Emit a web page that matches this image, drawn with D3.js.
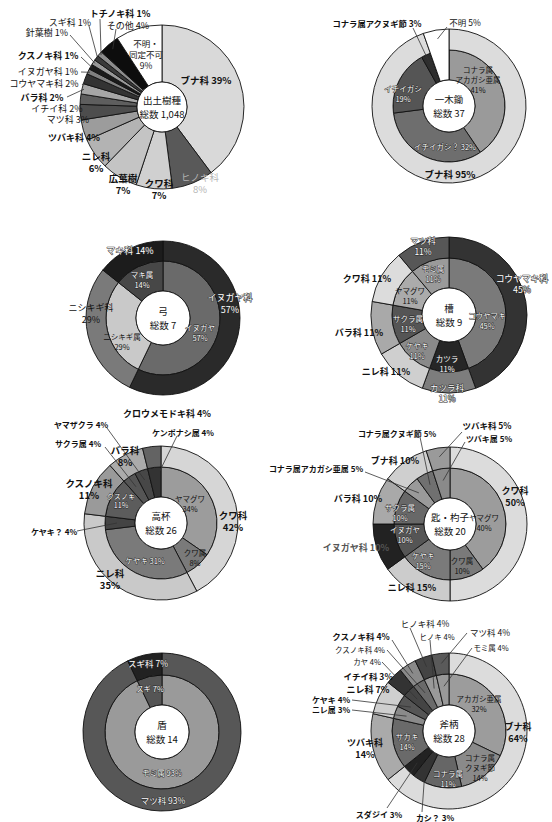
<!DOCTYPE html>
<html>
<head>
<meta charset="utf-8">
<script src="https://cdn.jsdelivr.net/npm/d3@7"></script>
<style>
  body { margin: 0; background: #fff; }
  text { font-family: "Noto Sans CJK JP", "Noto Sans", sans-serif; }
</style>
</head>
<body>
<svg width="552" height="822"></svg>
<script>
// ---- data (clockwise from 12 o'clock) ----
// 出土樹種 : single ring, percentages
const p1Names = ['ブナ科','ヒノキ科','クワ科','広葉樹','ニレ科','ツバキ科','マツ科','イチイ科','バラ科','コウヤマキ科','イヌガヤ科','クスノキ科','針葉樹','スギ科','トチノキ科','その他','不明・同定不可'];
const p1Values = [39, 8, 7, 7, 6, 4, 3, 2, 2, 2, 1, 1, 1, 1, 1, 4, 9];

// 一木鋤 総数 37 (counts)
const p2OuterNames = ['ブナ科','不明'];
const p2OuterValues = [35, 2];
const p2InnerNames = ['コナラ属アカガシ亜属','イチイガシ？','イチイガシ','コナラ属クヌギ節','不明'];
const p2InnerValues = [15, 12, 7, 1, 2];

// 弓 総数 7
const p3OuterNames = ['イヌガヤ科','ニシキギ科','マキ科'];
const p3OuterValues = [4, 2, 1];
const p3InnerNames = ['イヌガヤ','ニシキギ属','マキ属'];
const p3InnerValues = [4, 2, 1];

// 槽 総数 9
const p4OuterNames = ['コウヤマキ科','カツラ科','ニレ科','バラ科','クワ科','マツ科'];
const p4OuterValues = [4, 1, 1, 1, 1, 1];
const p4InnerNames = ['コウヤマキ','カツラ','ケヤキ','サクラ属','ヤマグワ','モミ属'];
const p4InnerValues = [4, 1, 1, 1, 1, 1];

// 高杯 総数 26
const p5OuterNames = ['クワ科','ニレ科','クスノキ科','バラ科','クロウメモドキ科'];
const p5OuterValues = [11, 9, 3, 2, 1];
const p5InnerNames = ['ヤマグワ','クワ属','ケヤキ','ケヤキ？','クスノキ','サクラ属','ヤマザクラ','ケンポナシ属'];
const p5InnerValues = [9, 2, 8, 1, 3, 1, 1, 1];

// 匙・杓子 総数 20
const p6OuterNames = ['クワ科','ニレ科','イヌガヤ科','バラ科','ブナ科','ツバキ科'];
const p6OuterValues = [10, 3, 2, 2, 2, 1];
const p6InnerNames = ['ヤマグワ','クワ属','ケヤキ','イヌガヤ','サクラ属','コナラ属アカガシ亜属','コナラ属クヌギ節','ツバキ属'];
const p6InnerValues = [8, 2, 3, 2, 2, 1, 1, 1];

// 盾 総数 14
const p7OuterNames = ['マツ科','スギ科'];
const p7OuterValues = [13, 1];
const p7InnerNames = ['モミ属','スギ'];
const p7InnerValues = [13, 1];

// 斧柄 総数 28
const p8OuterNames = ['ブナ科','ツバキ科','ニレ科','イチイ科','クスノキ科','ヒノキ科','マツ科'];
const p8OuterValues = [18, 4, 2, 1, 1, 1, 1];
const p8InnerNames = ['アカガシ亜属','コナラ属クヌギ節','コナラ属','カシ？','スダジイ','サカキ','ニレ属','ケヤキ','カヤ','クスノキ科','ヒノキ','モミ属'];
const p8InnerValues = [9, 4, 3, 1, 1, 4, 1, 1, 1, 1, 1, 1];

// ---- styles ----
const p1Fills = ['#d9d9d9','#595959','#d0d0d0','#c4c4c4','#b3b3b3','#9c9c9c','#4d4d4d','#5e5e5e','#a6a6a6','#333','#808080','#1a1a1a','#999','#3a3a3a','#8c8c8c','#0d0d0d','#fff'];
const p2OuterFills = ['#dcdcdc','#fff'];
const p2InnerFills = ['#9a9a9a','#6e6e6e','#555','#2e2e2e','#fff'];
const p3OuterFills = ['#2a2a2a','#7a7a7a','#1c1c1c'];
const p3InnerFills = ['#6a6a6a','#c9c9c9','#474747'];
const p4OuterFills = ['#333','#7d7d7d','#cfcfcf','#a9a9a9','#dcdcdc','#575757'];
const p4InnerFills = ['#7a7a7a','#262626','#8a8a8a','#555','#ababab','#9a9a9a'];
const p5OuterFills = ['#d6d6d6','#c9c9c9','#9a9a9a','#ababab','#636363'];
const p5InnerFills = ['#9c9c9c','#7a7a7a','#7a7a7a','#444','#5c5c5c','#555','#474747','#333'];
const p6OuterFills = ['#dcdcdc','#cccccc','#222','#a9a9a9','#cfcfcf','#9a9a9a'];
const p6InnerFills = ['#9c9c9c','#7a7a7a','#7a7a7a','#555','#686868','#9a9a9a','#707070','#8a8a8a'];
const p7OuterFills = ['#575757','#222'];
const p7InnerFills = ['#9a9a9a','#555'];
const p8OuterFills = ['#dcdcdc','#aaaaaa','#cfcfcf','#333','#8a8a8a','#444','#5a5a5a'];
const p8InnerFills = ['#9c9c9c','#8a8a8a','#666','#333','#222','#6a6a6a','#8a8a8a','#555','#444','#6a6a6a','#999','#999'];

// ---- label layout (relative to panel centre); r/k = ring & slice a leader points to ----
const p1Labels = [
  {t:['ブナ科 39%'], x:44, y:-27, b:1, fs:9.5},
  {t:['ヒノキ科','8%'], x:38, y:70, c:'#b5b5b5', fs:9.5},
  {t:['クワ科','7%'], x:-3, y:76, b:1, fs:9.5},
  {t:['広葉樹','7%'], x:-39, y:71, b:1, fs:9.5},
  {t:['ニレ科','6%'], x:-66, y:49, b:1, fs:9.5},
  {t:['ツバキ科 4%'], x:-88, y:30, b:1, fs:9},
  {t:['マツ科 3%'], x:-94, y:12, fs:9},
  {t:['イチイ科 2%'], x:-105, y:1, fs:9},
  {t:['バラ科 2%'], x:-120, y:-10, b:1, fs:9, r:0, k:8, sx:-95, sy:-10, er:80},
  {t:['コウヤマキ科 2%'], x:-118, y:-24, fs:9, r:0, k:9, sx:-80, sy:-22, er:80},
  {t:['イヌガヤ科 1%'], x:-114, y:-36, fs:9, r:0, k:10, sx:-81, sy:-35, er:80},
  {t:['クスノキ科 1%'], x:-114, y:-52, b:1, fs:9, r:0, k:11, sx:-81, sy:-50, er:80},
  {t:['針葉樹 1%'], x:-115, y:-75, fs:9, r:0, k:12, sx:-92, sy:-72, er:80},
  {t:['スギ科 1%'], x:-92, y:-85, fs:9, r:0, k:13, sx:-73, sy:-81, er:80},
  {t:['トチノキ科 1%'], x:-42, y:-94, b:1, fs:9, r:0, k:14, sx:-62, sy:-88, er:80},
  {t:['その他 4%'], x:-34, y:-82, fs:9, r:0, k:15, sx:-46, sy:-78, er:76},
  {t:['不明・','同定不可','9%'], x:-16, y:-64, fs:8.5}
];
const p2Labels = [
  {t:['コナラ属アクヌギ節 3%'], x:-72, y:-83, b:1, fs:8.3, r:0, k:3, sx:-36, sy:-78, er:46},
  {t:['不明 5%'], x:16, y:-84, fs:8.5, r:1, k:1, sx:-2, sy:-79, er:68},
  {t:['コナラ属','アカガシ亜属','41%'], x:29, y:-37, fs:7.5},
  {t:['イチイガシ','19%'], x:-46, y:-18, w:1, fs:7.5},
  {t:['イチイガシ？ 32%'], x:-4, y:40, w:1, fs:7.5},
  {t:['ブナ科 95%'], x:1, y:68, b:1, fs:9.5}
];
const p3Labels = [
  {t:['マキ科 14%'], x:-33, y:-68, w:1, fs:9},
  {t:['マキ属','14%'], x:-21, y:-44, w:1, fs:7.5},
  {t:['ニシキギ科','29%'], x:-72, y:-11, fs:9},
  {t:['ニシキギ属','29%'], x:-41, y:18, fs:7.5},
  {t:['イヌガヤ科','57%'], x:67, y:-21, w:1, fs:9},
  {t:['イヌガヤ','57%'], x:37, y:9, w:1, fs:7.5}
];
const p4Labels = [
  {t:['マツ科','11%'], x:-26, y:-75, w:1, fs:8.5},
  {t:['モミ属','11%'], x:-16, y:-47, w:1, fs:7.5},
  {t:['クワ科 11%'], x:-82, y:-37, b:1, fs:9},
  {t:['ヤマグワ','11%'], x:-39, y:-25, fs:7.5},
  {t:['コウヤマキ科','45%'], x:73, y:-37, w:1, fs:8.8},
  {t:['コウヤマキ','45%'], x:38, y:0, w:1, fs:7.5},
  {t:['サクラ属','11%'], x:-41, y:3, w:1, fs:7.5},
  {t:['バラ科 11%'], x:-90, y:17, b:1, fs:9},
  {t:['ケヤキ','11%'], x:-32, y:30, w:1, fs:7.5},
  {t:['カツラ','11%'], x:-2, y:43, w:1, fs:7.5},
  {t:['ニレ科 11%'], x:-63, y:56, b:1, fs:9},
  {t:['カツラ科','11%'], x:-2, y:72, w:1, fs:8.5}
];
const p5Labels = [
  {t:['クロウメモドキ科 4%'], x:6, y:-110, b:1, fs:9},
  {t:['ヤマザクラ 4%'], x:-80, y:-99, b:1, fs:8, r:0, k:6, sx:-54, sy:-95, er:46},
  {t:['ケンポナシ属 4%'], x:22, y:-91, b:1, fs:8, r:0, k:7, sx:16, sy:-87, er:44},
  {t:['サクラ属 4%'], x:-83, y:-80, b:1, fs:8, r:0, k:5, sx:-56, sy:-76, er:44},
  {t:['バラ科','8%'], x:-36, y:-73, b:1, fs:9.5},
  {t:['クスノキ科','11%'], x:-72, y:-40, b:1, fs:9.5},
  {t:['クスノキ','11%'], x:-40, y:-27, w:1, fs:7.2},
  {t:['ヤマグワ','34%'], x:29, y:-25, fs:7.5},
  {t:['クワ科','42%'], x:72, y:-8, b:1, fs:9.5},
  {t:['ケヤキ？ 4%'], x:-107, y:8, b:1, fs:8, r:0, k:3, sx:-84, sy:8, er:44},
  {t:['クワ属','8%'], x:34, y:29, fs:7.5},
  {t:['ケヤキ 31%'], x:-16, y:37, w:1, fs:7.5},
  {t:['ニレ科','35%'], x:-51, y:50, b:1, fs:9.5}
];
const p6Labels = [
  {t:['ツバキ科 5%'], x:37, y:-99, b:1, fs:8.5, r:1, k:5, sx:12, sy:-92, er:68},
  {t:['ツバキ属 5%'], x:39, y:-86, b:1, fs:8, r:0, k:7, sx:15, sy:-82, er:44},
  {t:['コナラ属クヌギ節 5%'], x:-53, y:-91, b:1, fs:8, r:0, k:6, sx:-30, sy:-87, er:44},
  {t:['ブナ科 10%'], x:-55, y:-64, b:1, fs:9},
  {t:['コナラ属アカガシ亜属 5%'], x:-134, y:-56, b:1, fs:8, r:0, k:5, sx:-85, sy:-52, er:44},
  {t:['バラ科 10%'], x:-92, y:-26, b:1, fs:9},
  {t:['サクラ属','10%'], x:-50, y:-17, w:1, fs:7.5},
  {t:['ヤマグワ','40%'], x:34, y:-7, fs:7.5},
  {t:['クワ科','50%'], x:65, y:-34, b:1, fs:9},
  {t:['イヌガヤ','10%'], x:-45, y:5, w:1, fs:7.5},
  {t:['イヌガヤ科 10%'], x:-94, y:23, b:1, c:'#555', fs:9},
  {t:['ケヤキ','15%'], x:-27, y:31, w:1, fs:7.5},
  {t:['クワ属','10%'], x:12, y:36, fs:7.5},
  {t:['ニレ科 15%'], x:-38, y:63, b:1, fs:9}
];
const p7Labels = [
  {t:['スギ科 7%'], x:-14, y:-69, w:1, fs:8.5},
  {t:['スギ 7%'], x:-12, y:-44, w:1, fs:7.5},
  {t:['モミ属 93%'], x:0, y:40, w:1, fs:7.5},
  {t:['マツ科 93%'], x:1, y:68, w:1, fs:8.5}
];
const p8Labels = [
  {t:['ヒノキ科 4%'], x:-24, y:-108, fs:8.5, r:1, k:5, sx:-39, sy:-103, er:68},
  {t:['マツ科 4%'], x:41, y:-99, fs:8.5, r:1, k:6, sx:18, sy:-98, er:68},
  {t:['クスノキ科 4%'], x:-88, y:-95, b:1, fs:8.5, r:1, k:4, sx:-57, sy:-91, er:68},
  {t:['ヒノキ 4%'], x:-12, y:-95, fs:7.5, r:0, k:10, sx:-19, sy:-91, er:45},
  {t:['クスノキ科 4%'], x:-89, y:-82, fs:7.5, r:0, k:9, sx:-62, sy:-81, er:45},
  {t:['モミ属 4%'], x:42, y:-84, fs:7.5, r:0, k:11, sx:23, sy:-83, er:45},
  {t:['カヤ 4%'], x:-82, y:-70, fs:7.5, r:0, k:8, sx:-67, sy:-69, er:45},
  {t:['イチイ科 3%'], x:-81, y:-55, b:1, fs:8.5},
  {t:['ニレ科 7%'], x:-81, y:-42, b:1, fs:9},
  {t:['ケヤキ 4%'], x:-118, y:-32, b:1, fs:8, r:0, k:7, sx:-97, sy:-31, er:45},
  {t:['ニレ属 3%'], x:-118, y:-22, b:1, fs:8, r:0, k:6, sx:-97, sy:-21, er:45},
  {t:['アカガシ亜属','32%'], x:30, y:-33, fs:7.5},
  {t:['ブナ科','64%'], x:69, y:-5, b:1, fs:9},
  {t:['サカキ','14%'], x:-42, y:5, w:1, fs:7.5},
  {t:['ツバキ科','14%'], x:-84, y:11, b:1, fs:9},
  {t:['コナラ属','クヌギ節','14%'], x:31, y:26, fs:7.5},
  {t:['コナラ属','11%'], x:-1, y:42, w:1, fs:7.5},
  {t:['スダジイ 3%'], x:-70, y:83, b:1, fs:8, r:0, k:4, sx:-62, sy:77, er:45},
  {t:['カシ？ 3%'], x:-14, y:86, b:1, fs:8, r:0, k:3, sx:-27, sy:81, er:45}
];

// ---- panels ----
const panels = [
  {cx:162, cy:107, hole:25, title:['出土樹種','総数 1,048'], labels:p1Labels,
   rings:[{values:p1Values, names:p1Names, fills:p1Fills, r0:25, r1:82}]},
  {cx:449, cy:106, hole:26, title:['一木鋤','総数 37'], labels:p2Labels,
   rings:[{values:p2InnerValues, names:p2InnerNames, fills:p2InnerFills, r0:26, r1:56},
          {values:p2OuterValues, names:p2OuterNames, fills:p2OuterFills, r0:56, r1:77, span:['不明']}]},
  {cx:163, cy:318, hole:27, title:['弓','総数 7'], labels:p3Labels,
   rings:[{values:p3InnerValues, names:p3InnerNames, fills:p3InnerFills, r0:27, r1:57},
          {values:p3OuterValues, names:p3OuterNames, fills:p3OuterFills, r0:57, r1:77}]},
  {cx:449, cy:315, hole:27, title:['槽','総数 9'], labels:p4Labels,
   rings:[{values:p4InnerValues, names:p4InnerNames, fills:p4InnerFills, r0:27, r1:57},
          {values:p4OuterValues, names:p4OuterNames, fills:p4OuterFills, r0:57, r1:78}]},
  {cx:161, cy:523, hole:26, title:['高杯','総数 26'], labels:p5Labels,
   rings:[{values:p5InnerValues, names:p5InnerNames, fills:p5InnerFills, r0:26, r1:56},
          {values:p5OuterValues, names:p5OuterNames, fills:p5OuterFills, r0:56, r1:77}]},
  {cx:450, cy:524, hole:26, title:['匙・杓子','総数 20'], labels:p6Labels,
   rings:[{values:p6InnerValues, names:p6InnerNames, fills:p6InnerFills, r0:26, r1:56},
          {values:p6OuterValues, names:p6OuterNames, fills:p6OuterFills, r0:56, r1:77}]},
  {cx:162, cy:732, hole:27, title:['盾','総数 14'], labels:p7Labels,
   rings:[{values:p7InnerValues, names:p7InnerNames, fills:p7InnerFills, r0:27, r1:57},
          {values:p7OuterValues, names:p7OuterNames, fills:p7OuterFills, r0:57, r1:79}]},
  {cx:449, cy:731, hole:26, title:['斧柄','総数 28'], labels:p8Labels,
   rings:[{values:p8InnerValues, names:p8InnerNames, fills:p8InnerFills, r0:26, r1:57},
          {values:p8OuterValues, names:p8OuterNames, fills:p8OuterFills, r0:57, r1:78}]}
];

const svg = d3.select('svg');
const pie = d3.pie().sort(null).value(d => d);

const drawPanel = (p) => {
  const g = svg.append('g').attr('transform', `translate(${p.cx},${p.cy})`);

  // rings
  const ringArcs = p.rings.map(ring => {
    const arcs = pie(ring.values);
    const arc = d3.arc().innerRadius(ring.r0).outerRadius(ring.r1);
    const spanArc = d3.arc().innerRadius(p.hole).outerRadius(ring.r1);
    g.append('g').selectAll('path').data(arcs).join('path')
      .attr('d', (d, i) => (ring.span && ring.span.includes(ring.names[i])) ? spanArc(d) : arc(d))
      .attr('fill', (d, i) => ring.fills[i])
      .attr('stroke', '#111')
      .attr('stroke-width', 0.9)
      .attr('stroke-linejoin', 'round');
    return arcs;
  });

  // centre hole
  g.append('circle').attr('r', p.hole).attr('fill', '#fff').attr('stroke', '#111').attr('stroke-width', 0.9);
  g.append('g').selectAll('text').data(p.title).join('text')
    .attr('x', 0).attr('y', (d, i) => (i - 0.5) * 13.5)
    .attr('text-anchor', 'middle').attr('dominant-baseline', 'central')
    .attr('font-size', 9.5).attr('fill', '#111')
    .text(d => d);

  // leader lines
  const leaders = p.labels.filter(d => d.k !== undefined);
  g.append('g').selectAll('line').data(leaders).join('line')
    .attr('x1', d => d.sx).attr('y1', d => d.sy)
    .attr('x2', d => { const a = ringArcs[d.r][d.k]; return Math.sin((a.startAngle + a.endAngle) / 2) * d.er; })
    .attr('y2', d => { const a = ringArcs[d.r][d.k]; return -Math.cos((a.startAngle + a.endAngle) / 2) * d.er; })
    .attr('stroke', '#333').attr('stroke-width', 0.8);

  // labels (white ones get a thin dark halo like the print)
  const lab = g.append('g').selectAll('text').data(p.labels).join('text')
    .attr('text-anchor', 'middle')
    .attr('dominant-baseline', 'central')
    .attr('font-size', d => d.fs)
    .attr('font-weight', d => d.b ? 700 : 400)
    .attr('fill', d => d.w ? '#fff' : (d.c || '#111'))
    .attr('stroke', d => d.w ? '#2a2a2a' : null)
    .attr('stroke-width', d => d.w ? 1.0 : null)
    .attr('stroke-linejoin', 'round')
    .attr('paint-order', 'stroke');
  lab.selectAll('tspan').data(d => d.t.map((s, i) => ({s, x: d.x, y: d.y + i * d.fs * 1.3}))).join('tspan')
    .attr('x', d => d.x).attr('y', d => d.y)
    .text(d => d.s);
};

panels.forEach(drawPanel);
</script>
</body>
</html>
